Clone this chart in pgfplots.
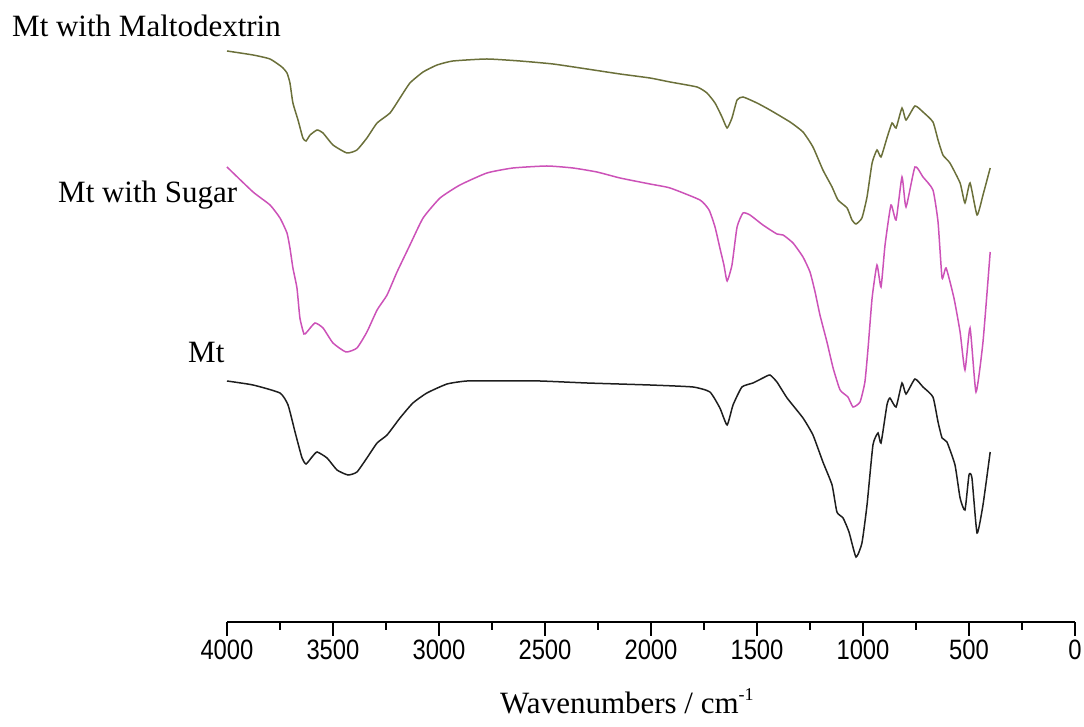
\documentclass[border=0pt]{standalone}
\usepackage{fontspec}
\setmainfont{Liberation Serif}
\newfontfamily\tickfont[FakeStretch=0.85]{Liberation Sans}
\usepackage{pgfplots}
\pgfplotsset{compat=1.18}
\definecolor{olivecurve}{RGB}{107,112,58}
\definecolor{magcurve}{RGB}{204,82,184}
\definecolor{blkcurve}{RGB}{30,30,30}
\pgfplotstableread{
x y
4000 571
3877 567
3797 563
3741 555
3717 549
3703 539
3689 519
3665 502
3642 484
3627 481
3608 487
3575 492
3547 489
3500 477
3434 469
3387 472
3340 484
3292 499
3231 509
3184 524
3137 539
3075 550
3009 557
2934 561
2774 563
2618 561
2462 558
2302 553
2146 548
2005 544
1910 540
1783 535
1736 529
1698 519
1665 505
1641 494
1618 504
1594 522
1566 525
1500 519
1439 512
1344 500
1283 490
1236 475
1189 452
1146 435
1118 422
1075 414
1052 402
1033 398
1005 404
981 425
957 459
934 472
915 465
887 484
863 499
844 494
816 514
797 502
755 516
717 510
670 500
646 482
623 467
590 459
542 439
519 419
495 439
462 407
434 427
400 454
}\maltodata
\pgfplotstableread{
x y
4000 455
3877 430
3797 417
3750 404
3717 389
3703 374
3689 354
3670 334
3656 304
3637 288
3623 290
3585 299
3547 294
3500 279
3439 270
3387 274
3340 290
3292 312
3245 327
3198 350
3137 377
3075 404
2995 424
2901 437
2774 449
2651 454
2491 456
2368 454
2255 450
2146 444
2005 438
1910 434
1769 422
1726 412
1698 395
1675 374
1656 357
1641 341
1618 357
1594 395
1566 409
1533 407
1472 397
1406 388
1377 387
1330 379
1283 365
1250 350
1226 330
1203 307
1170 280
1141 254
1108 232
1071 225
1047 215
1014 220
991 240
976 274
957 324
934 357
915 335
896 377
868 417
844 402
816 445
797 415
755 455
717 445
670 432
646 400
627 344
608 354
571 324
542 290
519 252
495 294
467 230
434 280
400 370
}\sugardata
\pgfplotstableread{
x y
4000 241
3877 237
3750 229
3712 217
3679 190
3646 164
3627 158
3599 165
3575 170
3528 164
3481 152
3429 147
3387 150
3340 164
3292 179
3245 187
3184 204
3123 219
3057 229
2962 238
2868 241
2698 241
2524 241
2302 239
2005 237
1802 235
1722 230
1675 214
1641 197
1613 217
1571 235
1519 239
1472 244
1439 247
1406 240
1358 224
1283 204
1236 187
1189 160
1146 137
1123 110
1094 104
1066 90
1033 65
1005 79
981 117
953 177
929 189
915 179
887 217
873 224
844 215
816 239
797 228
755 243
717 235
670 225
646 200
627 184
604 180
566 157
542 124
519 112
500 147
486 144
462 89
434 117
400 170
}\mtdata
\begin{document}
\begin{tikzpicture}[x=1pt,y=1pt]
\useasboundingbox (-227,-105) rectangle (857,622);
\begin{axis}[
  at={(0,0)}, anchor=south west,
  scale only axis, width=848pt, height=582pt,
  xmin=0, xmax=4000, x dir=reverse,
  ymin=0, ymax=582,
  axis x line*=bottom, axis y line=none,
  axis line style={line width=1.8pt, -},
  xtick={0,500,...,4000}, minor x tick num=1,
  tick align=outside,
  major tick length=14pt, minor tick length=8pt,
  every tick/.style={black, line width=1.8pt},
  /pgf/number format/1000 sep={},
  /pgf/number format/assume math mode=true,
  xticklabel style={font=\tickfont\fontsize{28}{30}\selectfont},
  clip=false,
]
\addplot[olivecurve, line width=1.5pt, no marks, smooth, tension=0.3] table[x=x,y=y] {\maltodata};
\addplot[magcurve, line width=1.5pt, no marks, smooth, tension=0.3] table[x=x,y=y] {\sugardata};
\addplot[blkcurve, line width=1.5pt, no marks, smooth, tension=0.3] table[x=x,y=y] {\mtdata};
\end{axis}
\node[anchor=base west, inner sep=0pt, font=\fontsize{31}{36}\selectfont] at (-215,585) {Mt with Maltodextrin};
\node[anchor=base west, inner sep=0pt, font=\fontsize{31}{36}\selectfont] at (-169,419) {Mt with Sugar};
\node[anchor=base west, inner sep=0pt, font=\fontsize{31}{36}\selectfont] at (-39,259) {Mt};
\node[anchor=base west, inner sep=0pt, font=\fontsize{31}{36}\selectfont] at (273,-92) {Wavenumbers / cm\raisebox{13pt}{\fontsize{18}{20}\selectfont -1}};
\end{tikzpicture}
\end{document}
